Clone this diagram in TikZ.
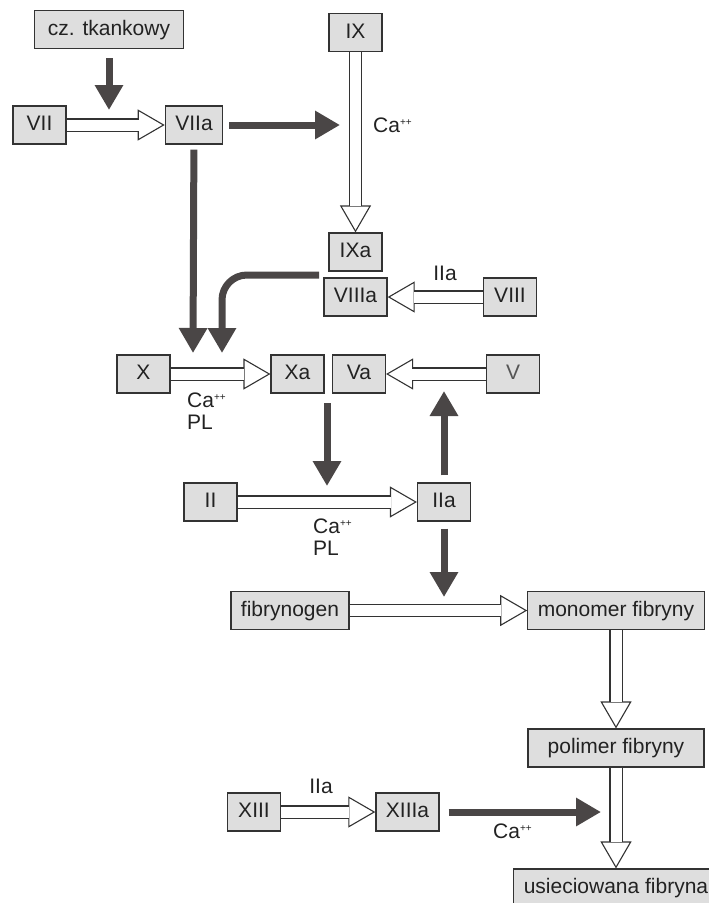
\documentclass[tikz,border=0pt]{standalone}
\usepackage{fontspec}
\setmainfont{Liberation Sans}
\usepackage{xcolor}
\usepackage{tikz}
\usetikzlibrary{arrows.meta,positioning}
\definecolor{boxfill}{HTML}{DEDEDE}
\definecolor{boxline}{HTML}{333333}
\definecolor{darkarrow}{HTML}{4A4646}
\definecolor{inktext}{HTML}{222222}
\definecolor{fainttext}{HTML}{555555}
\newcommand{\capp}{Ca\raisebox{7pt}{\fontsize{10pt}{10pt}\selectfont ++}}
\tikzset{
	factor/.style={
		rectangle,
		fill=boxfill,
		draw=boxline, line width=1.2pt,
		text=inktext,
		minimum width=53pt,
		minimum height=38pt,
		inner xsep=10pt,
		text height=15.5pt, text depth=4.5pt,
		font={\fontsize{21pt}{25pt}\selectfont}
	},
	note/.style={
		inner sep=0pt,
		align=left,
		text=inktext,
		font={\fontsize{21pt}{22pt}\selectfont}
	},
	hollow/.style={
		draw=boxline, line width=1.1pt,
		-{Triangle[width=31pt,length=27pt,fill=white]},
		postaction={draw=boxline, -, double=white, double distance=11pt,
			line width=1.1pt, shorten >=26pt}
	},
	push/.style={draw=darkarrow, line width=7pt, -{Triangle[width=27pt,length=25pt]}},
}

\begin{document}
\begin{tikzpicture}[x=1pt,y=-1pt]
	\useasboundingbox (0,0) rectangle (709,903);
	\clip (0,0) rectangle (709,903);
	% factors
	\node[factor, minimum width=149pt] (ct) at (109,29.5) {cz. tkankowy};
	\node[factor] (n7)   at (39.5,125)  {VII};
	\node[factor] (n7a)  at (194,125)   {VIIa};
	\node[factor] (n9)   at (355.5,32.5) {IX};
	\node[factor] (n9a)  at (355.5,252) {IXa};
	\node[factor] (n8a)  at (355.5,297) {VIIIa};
	\node[factor] (n8)   at (510,297)   {VIII};
	\node[factor] (n10)  at (143.5,374) {X};
	\node[factor] (n10a) at (297.5,374) {Xa};
	\node[factor] (n5a)  at (359,374)   {Va};
	\node[factor, text=fainttext] (n5) at (513,374) {V};
	\node[factor] (n2)   at (210.5,502) {II};
	\node[factor] (n2a)  at (444,502)   {IIa};
	\node[factor] (fg)   at (290,610.5) {fibrynogen};
	\node[factor] (mf)   at (616,610.5) {monomer fibryny};
	\node[factor, minimum width=176pt] (pf) at (616,748) {polimer fibryny};
	\node[factor] (n13)  at (254,812)   {XIII};
	\node[factor] (n13a) at (407.5,812) {XIIIa};
	\node[factor] (uf)   at (616,888)   {usieciowana fibryna};
	% labels
	\node[note, anchor=west] (caIX) at (373,125) {\capp};
	\node[note] (iiaA) at (445,273.5) {IIa};
	\node[note, anchor=north west] (caX) at (187,392.5) {\capp\\PL};
	\node[note, anchor=north west] (caII) at (313,518.5) {\capp\\PL};
	\node[note] (iiaB) at (321,786.5) {IIa};
	\node[note, anchor=west] (caXIII) at (493,831) {\capp};
	% conversions
	\foreach \from/\to in {n7/n7a,n9/n9a,n8/n8a,n10/n10a,n5/n5a,n2/n2a,fg/mf,mf/pf,pf/uf,n13/n13a}
		\draw[hollow] (\from) -- (\to);
	% activations
	\coordinate (hitVII) at (109,110);
	\coordinate (hitIX) at (340,125);
	\coordinate (hitX) at (193,353);
	\coordinate (tenase) at (319,275);
	\coordinate (hitXb) at (222,353);
	\coordinate (prot) at (327,403);
	\coordinate (hitII) at (327,486);
	\coordinate (hitV) at (444,391);
	\coordinate (hitFg) at (444,597);
	\coordinate (hitPf) at (601,812);
	\draw[push, shorten <=9pt] (ct) -- (hitVII);
	\draw[push, shorten <=6pt] (n7a) -- (hitIX);
	\draw[push, shorten <=5pt] (n7a) -- (hitX);
	\draw[push, rounded corners=25pt] (tenase) -| (hitXb);
	\draw[push] (prot) -- (hitII);
	\draw[push, shorten <=7pt] (n2a) -- (hitV);
	\draw[push, shorten <=7pt] (n2a) -- (hitFg);
	\draw[push, shorten <=9pt] (n13a) -- (hitPf);
\end{tikzpicture}
\end{document}
